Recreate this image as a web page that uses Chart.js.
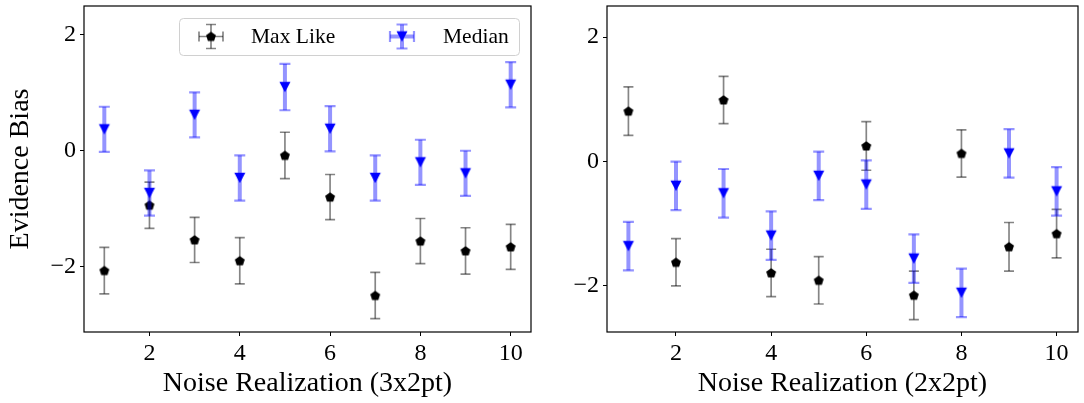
<!DOCTYPE html>
<html>
<head>
<meta charset="utf-8">
<script src="https://cdn.jsdelivr.net/npm/chart.js@4.4.0/dist/chart.umd.min.js"></script>
<style>
  html, body { margin: 0; padding: 0; background: #fff; }
  #wrap { position: relative; width: 1084px; height: 403px; }
  .panel { position: absolute; top: 0; }
  #panelLeft { left: 0; }
  #panelRight { left: 540px; }
</style>
</head>
<body>
<div id="wrap">
  <div class="panel" id="panelLeft"><canvas id="chartLeft" width="540" height="403"></canvas></div>
  <div class="panel" id="panelRight"><canvas id="chartRight" width="544" height="403"></canvas></div>
</div>
<script>
// noise realisations on the x axis
var realizations = [1, 2, 3, 4, 5, 6, 7, 8, 9, 10];
var xTicks = [2, 4, 6, 8, 10];
var yTicks = [-2, 0, 2];
var seriesNames = ["Max Like", "Median"];

// 3x2pt panel
var maxLike3x2 = [-2.07, -0.94, -1.54, -1.90, -0.08, -0.80, -2.50, -1.56, -1.73, -1.66];
var maxLike3x2Err = [0.40, 0.40, 0.39, 0.40, 0.40, 0.39, 0.40, 0.39, 0.40, 0.39];
var median3x2 = [0.37, -0.73, 0.62, -0.47, 1.10, 0.38, -0.47, -0.20, -0.39, 1.14];
var median3x2Err = [0.39, 0.39, 0.39, 0.39, 0.40, 0.39, 0.39, 0.39, 0.39, 0.39];

// 2x2pt panel
var maxLike2x2 = [0.81, -1.62, 0.99, -1.79, -1.91, 0.25, -2.15, 0.13, -1.37, -1.16];
var maxLike2x2Err = [0.39, 0.38, 0.38, 0.38, 0.38, 0.39, 0.39, 0.38, 0.39, 0.39];
var median2x2 = [-1.36, -0.39, -0.51, -1.19, -0.23, -0.37, -1.56, -2.11, 0.13, -0.48];
var median2x2Err = [0.39, 0.39, 0.39, 0.39, 0.39, 0.39, 0.39, 0.39, 0.39, 0.39];

Chart.defaults.font.family = "'Liberation Serif', 'Times New Roman', serif";
Chart.defaults.color = "#000";

// marker images: pentagon (matplotlib 'p') and down triangle ('v')
function pentagonMarker() {
  var c = document.createElement("canvas");
  c.width = 14; c.height = 14;
  var g = c.getContext("2d");
  g.beginPath();
  for (var k = 0; k < 5; k++) {
    var a = -Math.PI / 2 + k * 2 * Math.PI / 5;
    var px = 7 + 5.2 * Math.cos(a), py = 7.4 + 5.2 * Math.sin(a);
    if (k === 0) g.moveTo(px, py); else g.lineTo(px, py);
  }
  g.closePath();
  g.fillStyle = "#000";
  g.fill();
  return c;
}
function triangleDownMarker() {
  var c = document.createElement("canvas");
  c.width = 14; c.height = 14;
  var g = c.getContext("2d");
  g.beginPath();
  g.moveTo(7 - 5.5, 7 - 5.2);
  g.lineTo(7 + 5.5, 7 - 5.2);
  g.lineTo(7, 7 + 5.2);
  g.closePath();
  g.fillStyle = "#0000ff";
  g.fill();
  return c;
}
var pentagon = pentagonMarker();
var triDown = triangleDownMarker();

function toPoints(ys) {
  return realizations.map(function (x, i) { return { x: x, y: ys[i] }; });
}

var styleMaxLike = { errColor: "rgba(0,0,0,0.48)", errWidth: 1.7, capHalf: 5, capWidth: 1.7 };
var styleMedian = { errColor: "rgba(0,0,255,0.42)", errWidth: 4, capHalf: 5.5, capWidth: 2.2 };

// draw each dataset's error bars just before its markers
var errorBars = {
  id: "errorBars",
  beforeDatasetDraw: function (chart, args) {
    var ds = chart.data.datasets[args.index];
    var st = ds.errStyle;
    var yScale = chart.scales.y;
    var ctx = chart.ctx;
    ctx.save();
    ctx.strokeStyle = st.errColor;
    args.meta.data.forEach(function (pt, i) {
      var v = ds.data[i].y, e = ds.errors[i];
      var top = yScale.getPixelForValue(v + e);
      var bot = yScale.getPixelForValue(v - e);
      ctx.lineWidth = st.errWidth;
      ctx.beginPath();
      ctx.moveTo(pt.x, top);
      ctx.lineTo(pt.x, bot);
      ctx.stroke();
      ctx.lineWidth = st.capWidth;
      ctx.beginPath();
      ctx.moveTo(pt.x - st.capHalf, top); ctx.lineTo(pt.x + st.capHalf, top);
      ctx.moveTo(pt.x - st.capHalf, bot); ctx.lineTo(pt.x + st.capHalf, bot);
      ctx.stroke();
    });
    ctx.restore();
  }
};

// full box around the plot area like matplotlib spines
var frame = {
  id: "frame",
  afterDatasetsDraw: function (chart) {
    var a = chart.chartArea, ctx = chart.ctx;
    ctx.save();
    ctx.strokeStyle = "#000";
    ctx.lineWidth = 1.2;
    ctx.strokeRect(a.left, a.top, a.right - a.left, a.bottom - a.top);
    ctx.restore();
  }
};

function legendHandle(ctx, x, y, st, img) {
  ctx.save();
  ctx.strokeStyle = st.errColor;
  ctx.lineWidth = st.errWidth;
  ctx.beginPath();
  ctx.moveTo(x, y - 12); ctx.lineTo(x, y + 12);
  ctx.moveTo(x - 12, y); ctx.lineTo(x + 12, y);
  ctx.stroke();
  ctx.lineWidth = st.capWidth;
  ctx.beginPath();
  ctx.moveTo(x - st.capHalf, y - 12); ctx.lineTo(x + st.capHalf, y - 12);
  ctx.moveTo(x - st.capHalf, y + 12); ctx.lineTo(x + st.capHalf, y + 12);
  ctx.moveTo(x - 12, y - st.capHalf); ctx.lineTo(x - 12, y + st.capHalf);
  ctx.moveTo(x + 12, y - st.capHalf); ctx.lineTo(x + 12, y + st.capHalf);
  ctx.stroke();
  ctx.drawImage(img, x - img.width / 2, y - img.height / 2);
  ctx.restore();
}

var insideLegend = {
  id: "insideLegend",
  afterDraw: function (chart) {
    var a = chart.chartArea, ctx = chart.ctx;
    var w = 340, h = 37;
    var x0 = a.right - 12 - w, y0 = a.top + 12;
    ctx.save();
    ctx.fillStyle = "rgba(255,255,255,0.8)";
    ctx.strokeStyle = "#d0d0d0";
    ctx.lineWidth = 1;
    ctx.beginPath();
    ctx.roundRect(x0 + 0.5, y0 + 0.5, w, h, 4);
    ctx.fill();
    ctx.stroke();
    var cy = y0 + h / 2;
    legendHandle(ctx, x0 + 32, cy, styleMaxLike, pentagon);
    legendHandle(ctx, x0 + 223, cy, styleMedian, triDown);
    ctx.fillStyle = "#000";
    ctx.font = "21.5px 'Liberation Serif', serif";
    ctx.textBaseline = "middle";
    ctx.fillText(seriesNames[0], x0 + 72, cy + 1);
    ctx.fillText(seriesNames[1], x0 + 264, cy + 1);
    ctx.restore();
  }
};

function fmtTick(v) {
  return v < 0 ? "\u2212" + Math.abs(v) : String(v);
}

function makeChart(id, ml, mlErr, md, mdErr, opt) {
  var plugins = [errorBars, frame];
  if (opt.legend) plugins.push(insideLegend);
  return new Chart(document.getElementById(id), {
    type: "scatter",
    data: {
      datasets: [
        {
          label: seriesNames[0],
          data: toPoints(ml),
          errors: mlErr,
          errStyle: styleMaxLike,
          pointStyle: pentagon,
          pointRadius: 5,
          order: 2
        },
        {
          label: seriesNames[1],
          data: toPoints(md),
          errors: mdErr,
          errStyle: styleMedian,
          pointStyle: triDown,
          pointRadius: 5,
          order: 1
        }
      ]
    },
    options: {
      responsive: false,
      animation: false,
      devicePixelRatio: 1,
      layout: { padding: { left: 0, right: opt.padRight, top: 4, bottom: 0 } },
      plugins: { legend: { display: false }, tooltip: { enabled: false } },
      scales: {
        x: {
          type: "linear",
          min: 0.55,
          max: 10.45,
          afterBuildTicks: function (s) { s.ticks = xTicks.map(function (v) { return { value: v }; }); },
          afterFit: function (s) { s.height = 71; s.paddingLeft = 0; s.paddingRight = 0; },
          grid: { drawOnChartArea: false, drawTicks: true, tickLength: 4, color: "#000", lineWidth: 1 },
          border: { display: false },
          ticks: { font: { size: 24 }, color: "#000", padding: 3, maxRotation: 0, autoSkip: false, callback: fmtTick },
          title: { display: true, text: opt.xTitle, font: { size: 28 }, color: "#000", padding: { top: 0, bottom: 3 } }
        },
        y: {
          min: opt.yMin,
          max: opt.yMax,
          afterBuildTicks: function (s) { s.ticks = yTicks.map(function (v) { return { value: v }; }); },
          afterFit: function (s) { s.width = opt.yWidth; s.paddingTop = 0; s.paddingBottom = 0; },
          grid: { drawOnChartArea: false, drawTicks: true, tickLength: 4, color: "#000", lineWidth: 1 },
          border: { display: false },
          ticks: { font: { size: 24 }, color: "#000", padding: 4, autoSkip: false, callback: fmtTick },
          title: { display: !!opt.yTitle, text: opt.yTitle || "", font: { size: 28 }, color: "#000", padding: { top: 4, bottom: 0 } }
        }
      }
    },
    plugins: plugins
  });
}

makeChart("chartLeft", maxLike3x2, maxLike3x2Err, median3x2, median3x2Err, {
  xTitle: "Noise Realization (3x2pt)",
  yTitle: "Evidence Bias",
  yMin: -3.13, yMax: 2.5,
  yWidth: 84, padRight: 9, legend: true
});

makeChart("chartRight", maxLike2x2, maxLike2x2Err, median2x2, median2x2Err, {
  xTitle: "Noise Realization (2x2pt)",
  yMin: -2.74, yMax: 2.5,
  yWidth: 67, padRight: 4, legend: false
});
</script>
</body>
</html>
